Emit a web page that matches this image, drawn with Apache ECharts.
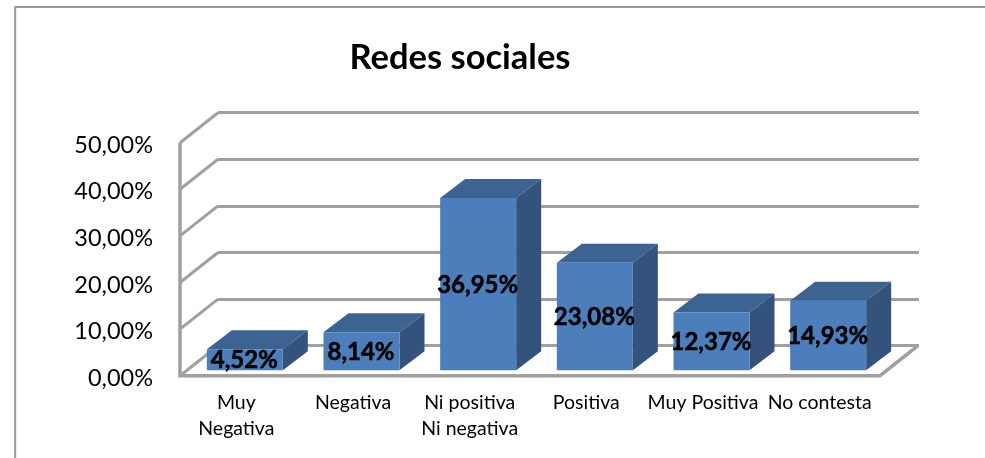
<!DOCTYPE html>
<html>
<head>
<meta charset="utf-8">
<style>html,body{margin:0;padding:0;background:#fff}#c{width:985px;height:458px}</style>
<script src="https://cdn.jsdelivr.net/npm/echarts@6/dist/echarts.min.js"></script>
</head>
<body>
<div id="c"></div>
<script>
const categories = ['Muy\nNegativa', 'Negativa', 'Ni positiva\nNi negativa', 'Positiva', 'Muy Positiva', 'No contesta'];
const values = [4.52, 8.14, 36.95, 23.08, 12.37, 14.93];
const ticks = [0, 10, 20, 30, 40, 50];
const titleText = 'Redes sociales';

const FONT = 'Lato, "Noto Sans", sans-serif';
const DEPTH_X = 38, DEPTH_Y = -30;
const GAP_X = 6.5, GAP_Y = -5.5, BAR_DX = 25, BAR_DY = -19, BAR_W = 76;
const GRID_COLOR = '#a0a0a0';
const fmt = v => v.toFixed(2).replace('.', ',') + '%';

const chart = echarts.init(document.getElementById('c'), null, {renderer: 'canvas'});

function frameItem(params, api) {
  const v = api.value(0);
  const band = api.size([1, 0])[0];
  const p = api.coord([0, v]);
  const x0 = p[0] - band / 2, y = p[1];
  const children = [{
    type: 'polyline',
    shape: {points: [[x0, y], [x0 + DEPTH_X, y + DEPTH_Y]]},
    style: {stroke: GRID_COLOR, lineWidth: 3, fill: 'none'}
  }];
  if (v === ticks[0]) {
    const top = api.coord([0, ticks[ticks.length - 1]])[1];
    const xr = x0 + band * categories.length;
    children.push({
      type: 'polyline',
      shape: {points: [[x0, top], [x0, y], [xr, y], [xr + DEPTH_X, y + DEPTH_Y]]},
      style: {stroke: GRID_COLOR, lineWidth: 3.5, fill: 'none'}
    });
  }
  return {type: 'group', children};
}

function barItem(params, api) {
  const idx = api.value(0), v = api.value(1);
  const c = api.coord([idx, 0]);
  const t = api.coord([idx, v]);
  const xl = c[0] + GAP_X - BAR_W / 2, xr = xl + BAR_W;
  const yb = c[1] + GAP_Y, yt = t[1] + GAP_Y;
  return {type: 'group', children: [
    {type: 'polygon', shape: {points: [[xl, yt], [xr, yt], [xr + BAR_DX, yt + BAR_DY], [xl + BAR_DX, yt + BAR_DY]]}, style: {fill: '#3d6392'}},
    {type: 'polygon', shape: {points: [[xr, yb], [xr + BAR_DX, yb + BAR_DY], [xr + BAR_DX, yt + BAR_DY], [xr, yt]]}, style: {fill: '#33537c'}},
    {type: 'rect', shape: {x: xl, y: yt, width: BAR_W, height: yb - yt}, style: {fill: '#4b7ebb'}}
  ]};
}

function labelItem(params, api) {
  const idx = api.value(0), v = api.value(1);
  const c = api.coord([idx, 0]);
  const t = api.coord([idx, v]);
  return {type: 'text', style: {
    text: fmt(v), x: c[0] + GAP_X - 0.5, y: (c[1] + t[1]) / 2 + GAP_Y + 1,
    textAlign: 'center', textVerticalAlign: 'middle',
    fill: '#000', stroke: '#000', lineWidth: 0.5, font: 'bold 24px ' + FONT
  }};
}

chart.setOption({
  animation: false,
  backgroundColor: '#fff',
  title: {
    text: titleText, left: 455, top: 35, textAlign: 'center',
    textStyle: {fontFamily: FONT, fontWeight: 'bold', fontSize: 34.5, color: '#000'}
  },
  grid: [
    {left: 180, top: 142.7, width: 700, height: 233},
    {left: 218, top: 112.7, width: 701, height: 233}
  ],
  xAxis: [
    {type: 'category', gridIndex: 0, data: categories, boundaryGap: true,
     axisLine: {show: false}, axisTick: {show: false},
     axisLabel: {interval: 0, color: '#000', fontFamily: FONT, fontSize: 19.5, lineHeight: 26, margin: 14, padding: [0, 4, 0, 0]}},
    {type: 'category', gridIndex: 1, data: categories, show: false}
  ],
  yAxis: [
    {type: 'value', gridIndex: 0, min: ticks[0], max: ticks[ticks.length - 1], interval: 10,
     splitLine: {show: false}, axisLine: {show: false}, axisTick: {show: false},
     axisLabel: {color: '#000', fontFamily: FONT, fontSize: 23.5, margin: 27, verticalAlign: 'top', lineHeight: 5, formatter: v => fmt(v)}},
    {type: 'value', gridIndex: 1, min: ticks[0], max: ticks[ticks.length - 1], interval: 10,
     axisLine: {show: false}, axisTick: {show: false}, axisLabel: {show: false},
     splitLine: {show: true, lineStyle: {color: GRID_COLOR, width: 3}}}
  ],
  graphic: [
    {type: 'polyline', silent: true, shape: {points: [[15.2, 458], [15.2, 7], [985, 7]]},
     style: {stroke: '#999999', lineWidth: 2, fill: 'none'}}
  ],
  series: [
    {type: 'custom', xAxisIndex: 0, yAxisIndex: 0, clip: false, z: 2, renderItem: frameItem,
     data: ticks.map(t => [t]), encode: {y: 0}, silent: true},
    {type: 'custom', xAxisIndex: 0, yAxisIndex: 0, clip: false, z: 3, renderItem: barItem,
     data: values.map((v, i) => [i, v]), encode: {x: 0, y: 1}, silent: true},
    {type: 'custom', xAxisIndex: 0, yAxisIndex: 0, clip: false, z: 4, renderItem: labelItem,
     data: values.map((v, i) => [i, v]), encode: {x: 0, y: 1}, silent: true}
  ]
});
</script>
</body>
</html>
